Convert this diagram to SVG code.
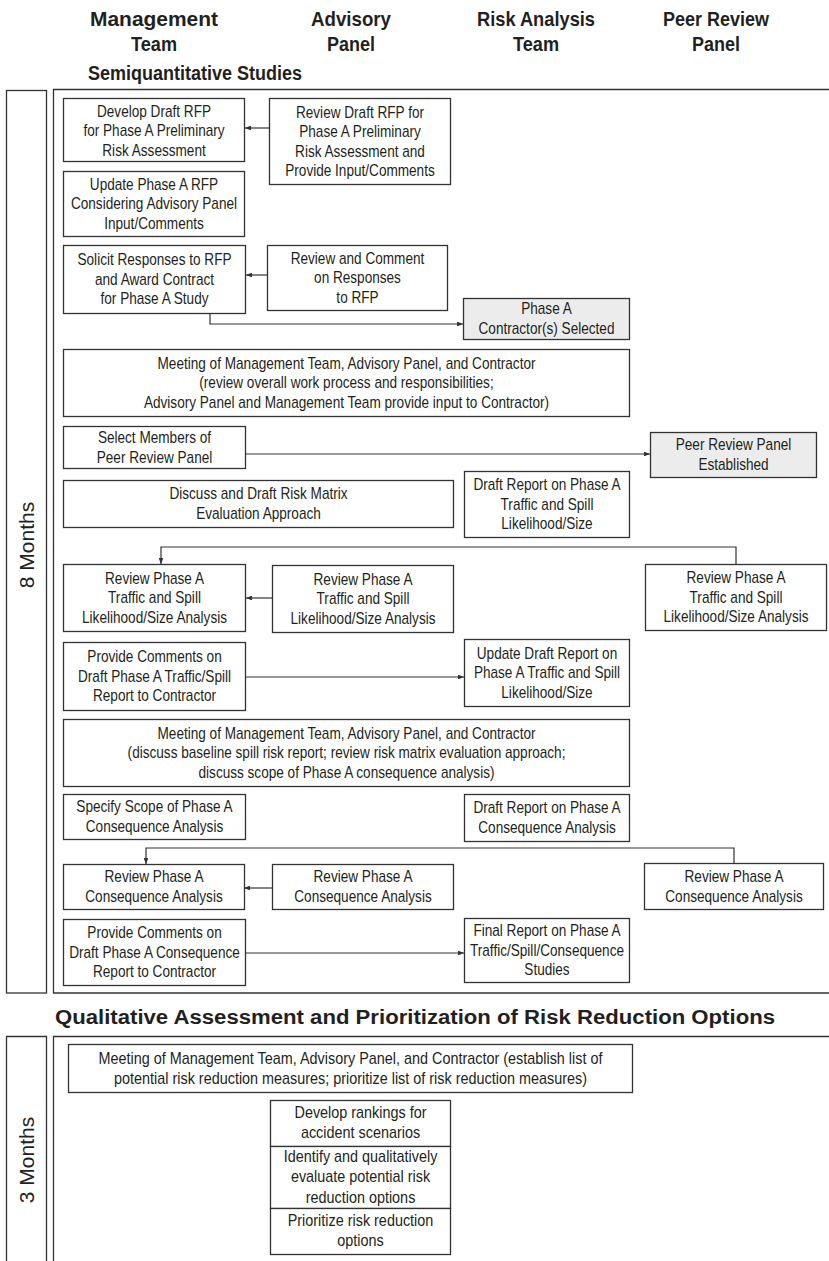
<svg xmlns="http://www.w3.org/2000/svg" width="829" height="1261" viewBox="0 0 829 1261">
<style>
.b{fill:#fff;stroke:#333;stroke-width:1.3}
.g{fill:#ececec;stroke:#333;stroke-width:1.3}
.f{fill:none;stroke:#333;stroke-width:1.3}
.t{font-family:"Liberation Sans",Arial,sans-serif;font-size:16px;fill:#231f20;text-anchor:middle}
.h{font-family:"Liberation Sans",Arial,sans-serif;font-weight:bold;font-size:21px;fill:#231f20;text-anchor:middle}
.s{font-family:"Liberation Sans",Arial,sans-serif;font-weight:bold;font-size:20px;fill:#231f20}
.m{font-family:"Liberation Sans",Arial,sans-serif;font-size:21px;fill:#231f20;text-anchor:middle}
.c{fill:none;stroke:#333;stroke-width:1.2;marker-end:url(#ah)}
</style>
<defs>
<marker id="ah" viewBox="0 0 10 8" refX="10" refY="4" markerWidth="6" markerHeight="4.8" markerUnits="userSpaceOnUse" orient="auto"><path d="M0,0 L10,4 L0,8 z" fill="#333"/></marker>
</defs>
<rect width="829" height="1261" fill="#fff"/>
<g id="headers">
<text class="h"><tspan x="154" y="26" textLength="128" lengthAdjust="spacingAndGlyphs">Management</tspan><tspan x="154" y="51" textLength="46" lengthAdjust="spacingAndGlyphs">Team</tspan></text>
<text class="h"><tspan x="351" y="26" textLength="80" lengthAdjust="spacingAndGlyphs">Advisory</tspan><tspan x="351" y="51" textLength="48" lengthAdjust="spacingAndGlyphs">Panel</tspan></text>
<text class="h"><tspan x="536" y="26" textLength="118" lengthAdjust="spacingAndGlyphs">Risk Analysis</tspan><tspan x="536" y="51" textLength="46" lengthAdjust="spacingAndGlyphs">Team</tspan></text>
<text class="h"><tspan x="716" y="26" textLength="106" lengthAdjust="spacingAndGlyphs">Peer Review</tspan><tspan x="716" y="51" textLength="48" lengthAdjust="spacingAndGlyphs">Panel</tspan></text>
<text class="s" x="88" y="80" textLength="214" lengthAdjust="spacingAndGlyphs">Semiquantitative Studies</text>
<text class="s" x="55" y="1024" textLength="720" lengthAdjust="spacingAndGlyphs">Qualitative Assessment and Prioritization of Risk Reduction Options</text>
</g>
<g id="frames">
<rect class="f" x="6.5" y="90.5" width="40" height="902.5"/>
<path class="f" d="M829,89.5 H53.5 V993 H829"/>
<path class="f" d="M6.5,1261 V1036.5 H46.5 V1261"/>
<path class="f" d="M829,1036.5 H53.5 V1261"/>
<text class="m" transform="translate(34,545) rotate(-90)">8 Months</text>
<text class="m" transform="translate(34,1160) rotate(-90)">3 Months</text>
</g>
<g id="connectors">
<path class="c" d="M269,128 H245"/>
<path class="c" d="M267,275 H246"/>
<path class="c" d="M210,314 V324 H463"/>
<path class="c" d="M246,454 H650"/>
<path class="c" d="M736,564 V547 H161 V564"/>
<path class="c" d="M272,598 H246"/>
<path class="c" d="M246,677 H464"/>
<path class="c" d="M734,863 V848 H146 V864"/>
<path class="c" d="M272,888 H244"/>
<path class="c" d="M246,953 H464"/>
</g>
<g id="n1"><rect class="b" x="63.5" y="98.5" width="181" height="63"/><text class="t" transform="translate(154,0) scale(0.85,1)"><tspan x="0" y="117">Develop Draft RFP</tspan><tspan x="0" y="136.5">for Phase A Preliminary</tspan><tspan x="0" y="156">Risk Assessment</tspan></text></g>
<g id="n2"><rect class="b" x="269.5" y="98.5" width="181" height="86"/><text class="t" transform="translate(360,0) scale(0.85,1)"><tspan x="0" y="118">Review Draft RFP for</tspan><tspan x="0" y="137.5">Phase A Preliminary</tspan><tspan x="0" y="157">Risk Assessment and</tspan><tspan x="0" y="176.5">Provide Input/Comments</tspan></text></g>
<g id="n3"><rect class="b" x="63.5" y="171.5" width="181" height="65"/><text class="t" transform="translate(154,0) scale(0.85,1)"><tspan x="0" y="190">Update Phase A RFP</tspan><tspan x="0" y="209.5">Considering Advisory Panel</tspan><tspan x="0" y="229">Input/Comments</tspan></text></g>
<g id="n4"><rect class="b" x="63.5" y="245.5" width="182" height="68"/><text class="t" transform="translate(154.5,0) scale(0.85,1)"><tspan x="0" y="265.5">Solicit Responses to RFP</tspan><tspan x="0" y="285">and Award Contract</tspan><tspan x="0" y="304.5">for Phase A Study</tspan></text></g>
<g id="n5"><rect class="b" x="267.5" y="245.5" width="180" height="65"/><text class="t" transform="translate(357.5,0) scale(0.85,1)"><tspan x="0" y="264">Review and Comment</tspan><tspan x="0" y="283.5">on Responses</tspan><tspan x="0" y="303">to RFP</tspan></text></g>
<g id="n6"><rect class="g" x="463.5" y="298.5" width="166" height="41"/><text class="t" transform="translate(546.5,0) scale(0.85,1)"><tspan x="0" y="314.5">Phase A</tspan><tspan x="0" y="334.5">Contractor(s) Selected</tspan></text></g>
<g id="n7"><rect class="b" x="63.5" y="349.5" width="566" height="67"/><text class="t" transform="translate(346.5,0) scale(0.85,1)"><tspan x="0" y="369">Meeting of Management Team, Advisory Panel, and Contractor</tspan><tspan x="0" y="388.5">(review overall work process and responsibilities;</tspan><tspan x="0" y="408">Advisory Panel and Management Team provide input to Contractor)</tspan></text></g>
<g id="n8"><rect class="b" x="63.5" y="426.5" width="182" height="42"/><text class="t" transform="translate(154.5,0) scale(0.85,1)"><tspan x="0" y="443">Select Members of</tspan><tspan x="0" y="463">Peer Review Panel</tspan></text></g>
<g id="n9"><rect class="g" x="650.5" y="432.5" width="166" height="45"/><text class="t" transform="translate(733.5,0) scale(0.85,1)"><tspan x="0" y="450.5">Peer Review Panel</tspan><tspan x="0" y="470.5">Established</tspan></text></g>
<g id="n10"><rect class="b" x="63.5" y="480.5" width="390" height="47"/><text class="t" transform="translate(258.5,0) scale(0.85,1)"><tspan x="0" y="499.5">Discuss and Draft Risk Matrix</tspan><tspan x="0" y="519.5">Evaluation Approach</tspan></text></g>
<g id="n11"><rect class="b" x="464.5" y="471.5" width="165" height="66"/><text class="t" transform="translate(547,0) scale(0.85,1)"><tspan x="0" y="490.5">Draft Report on Phase A</tspan><tspan x="0" y="510">Traffic and Spill</tspan><tspan x="0" y="529.5">Likelihood/Size</tspan></text></g>
<g id="n12"><rect class="b" x="63.5" y="564.5" width="182" height="67"/><text class="t" transform="translate(154.5,0) scale(0.85,1)"><tspan x="0" y="584">Review Phase A</tspan><tspan x="0" y="603.5">Traffic and Spill</tspan><tspan x="0" y="623">Likelihood/Size Analysis</tspan></text></g>
<g id="n13"><rect class="b" x="272.5" y="565.5" width="181" height="67"/><text class="t" transform="translate(363,0) scale(0.85,1)"><tspan x="0" y="585">Review Phase A</tspan><tspan x="0" y="604.5">Traffic and Spill</tspan><tspan x="0" y="624">Likelihood/Size Analysis</tspan></text></g>
<g id="n14"><rect class="b" x="645.5" y="564.5" width="181" height="66"/><text class="t" transform="translate(736,0) scale(0.85,1)"><tspan x="0" y="583.5">Review Phase A</tspan><tspan x="0" y="603">Traffic and Spill</tspan><tspan x="0" y="622.5">Likelihood/Size Analysis</tspan></text></g>
<g id="n15"><rect class="b" x="63.5" y="642.5" width="182" height="68"/><text class="t" transform="translate(154.5,0) scale(0.85,1)"><tspan x="0" y="662.5">Provide Comments on</tspan><tspan x="0" y="682">Draft Phase A Traffic/Spill</tspan><tspan x="0" y="701.5">Report to Contractor</tspan></text></g>
<g id="n16"><rect class="b" x="464.5" y="639.5" width="165" height="67"/><text class="t" transform="translate(547,0) scale(0.85,1)"><tspan x="0" y="659">Update Draft Report on</tspan><tspan x="0" y="678.5">Phase A Traffic and Spill</tspan><tspan x="0" y="698">Likelihood/Size</tspan></text></g>
<g id="n17"><rect class="b" x="63.5" y="719.5" width="566" height="67"/><text class="t" transform="translate(346.5,0) scale(0.85,1)"><tspan x="0" y="739">Meeting of Management Team, Advisory Panel, and Contractor</tspan><tspan x="0" y="758.5">(discuss baseline spill risk report; review risk matrix evaluation approach;</tspan><tspan x="0" y="778">discuss scope of Phase A consequence analysis)</tspan></text></g>
<g id="n18"><rect class="b" x="63.5" y="794.5" width="182" height="45"/><text class="t" transform="translate(154.5,0) scale(0.85,1)"><tspan x="0" y="812.5">Specify Scope of Phase A</tspan><tspan x="0" y="832.5">Consequence Analysis</tspan></text></g>
<g id="n19"><rect class="b" x="464.5" y="794.5" width="165" height="47"/><text class="t" transform="translate(547,0) scale(0.85,1)"><tspan x="0" y="813.5">Draft Report on Phase A</tspan><tspan x="0" y="833.5">Consequence Analysis</tspan></text></g>
<g id="n20"><rect class="b" x="63.5" y="864.5" width="181" height="45"/><text class="t" transform="translate(154,0) scale(0.85,1)"><tspan x="0" y="882.5">Review Phase A</tspan><tspan x="0" y="902.5">Consequence Analysis</tspan></text></g>
<g id="n21"><rect class="b" x="272.5" y="864.5" width="181" height="45"/><text class="t" transform="translate(363,0) scale(0.85,1)"><tspan x="0" y="882.5">Review Phase A</tspan><tspan x="0" y="902.5">Consequence Analysis</tspan></text></g>
<g id="n22"><rect class="b" x="644.5" y="863.5" width="179" height="46"/><text class="t" transform="translate(734,0) scale(0.85,1)"><tspan x="0" y="882">Review Phase A</tspan><tspan x="0" y="902">Consequence Analysis</tspan></text></g>
<g id="n23"><rect class="b" x="63.5" y="919.5" width="182" height="66"/><text class="t" transform="translate(154.5,0) scale(0.85,1)"><tspan x="0" y="938.5">Provide Comments on</tspan><tspan x="0" y="958">Draft Phase A Consequence</tspan><tspan x="0" y="977.5">Report to Contractor</tspan></text></g>
<g id="n24"><rect class="b" x="464.5" y="918.5" width="165" height="64"/><text class="t" transform="translate(547,0) scale(0.85,1)"><tspan x="0" y="936.5">Final Report on Phase A</tspan><tspan x="0" y="956">Traffic/Spill/Consequence</tspan><tspan x="0" y="975.5">Studies</tspan></text></g>
<g id="n25"><rect class="b" x="68.5" y="1044.5" width="564" height="48"/><text class="t" transform="translate(350.5,0) scale(0.9,1)"><tspan x="0" y="1064">Meeting of Management Team, Advisory Panel, and Contractor (establish list of</tspan><tspan x="0" y="1084">potential risk reduction measures; prioritize list of risk reduction measures)</tspan></text></g>
<g id="n26"><rect class="b" x="270.5" y="1100.5" width="180" height="46"/><text class="t" transform="translate(360.5,0) scale(0.9,1)"><tspan x="0" y="1118.5">Develop rankings for</tspan><tspan x="0" y="1138.5">accident scenarios</tspan></text></g>
<g id="n27"><rect class="b" x="270.5" y="1146.5" width="180" height="62"/><text class="t" transform="translate(360.5,0) scale(0.9,1)"><tspan x="0" y="1162">Identify and qualitatively</tspan><tspan x="0" y="1182.5">evaluate potential risk</tspan><tspan x="0" y="1203">reduction options</tspan></text></g>
<g id="n28"><rect class="b" x="270.5" y="1208.5" width="180" height="46"/><text class="t" transform="translate(360.5,0) scale(0.9,1)"><tspan x="0" y="1226.5">Prioritize risk reduction</tspan><tspan x="0" y="1246.5">options</tspan></text></g>
</svg>
